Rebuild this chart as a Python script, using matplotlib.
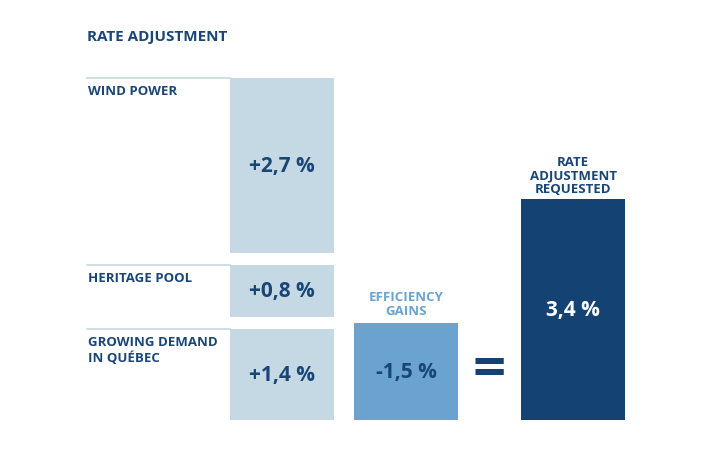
import numpy as np
import matplotlib.pyplot as plt

# data
stack_labels = ["GROWING DEMAND\nIN QUÉBEC", "HERITAGE POOL", "WIND POWER"]
stack_values = [1.4, 0.8, 2.7]
eff_label = "EFFICIENCY\nGAINS"
eff_value = -1.5
total_label = "RATE\nADJUSTMENT\nREQUESTED"
total_value = 3.4
title = "RATE ADJUSTMENT"

def fmt(v, sign=True):
    s = ("%+.1f" % v) if sign else ("%.1f" % v)
    return s.replace(".", ",") + " %"

light = "#c5d9e4"
mid = "#6aa3cf"
dark = "#144373"
txt = "#1a4677"

plt.rcParams['font.family'] = ['Open Sans', 'DejaVu Sans']

W, H = 727, 477
fig = plt.figure(figsize=(W / 100, H / 100), dpi=100)
ax = fig.add_axes([0, 0, 1, 1])
ppu = 65.0          # pixels per percent point
base_px = 56        # baseline distance from the bottom, pixels
ax.set_xlim(0, W)
ax.set_ylim(-base_px / ppu, (H - base_px) / ppu)
ax.axis("off")

gap = 12 / ppu
bw = 104
x_stack, x_eff, x_tot = 282, 406, 573

# stacked contributions with gaps
bottom = 0.0
for lab, v in zip(stack_labels, stack_values):
    ax.bar(x_stack, v, bw, bottom=bottom, color=light, linewidth=0)
    top = bottom + v
    ax.plot([87, x_stack - bw / 2], [top, top], color=light, lw=1.2)
    ax.annotate(lab, (88, top), xytext=(0, -4.5), textcoords="offset points",
                ha="left", va="top", fontsize=9.5, fontweight="bold", color=txt,
                linespacing=1.25)
    ax.text(x_stack, bottom + v / 2, fmt(v), ha="center", va="center",
            fontsize=15, fontweight="bold", color=txt)
    bottom = top + gap

# efficiency gains (negative, drawn upward from the baseline)
ax.bar(x_eff, abs(eff_value), bw, color=mid, linewidth=0)
ax.text(x_eff, abs(eff_value) / 2, fmt(eff_value), ha="center", va="center",
        fontsize=15, fontweight="bold", color=txt)
ax.annotate(eff_label, (x_eff, abs(eff_value)), xytext=(0, 4),
            textcoords="offset points", ha="center", va="bottom",
            fontsize=9.5, fontweight="bold", color=mid, linespacing=1.05)

# equals sign
ax.text((x_eff + x_tot) / 2, abs(eff_value) / 2, "=", ha="center",
        va="center", fontsize=42, fontweight="bold", color=dark)

# total
ax.bar(x_tot, total_value, bw, color=dark, linewidth=0)
ax.text(x_tot, total_value / 2, fmt(total_value, sign=False),
        ha="center", va="center", fontsize=15, fontweight="bold", color="white")
ax.annotate(total_label, (x_tot, total_value), xytext=(0, 3),
            textcoords="offset points", ha="center", va="bottom",
            fontsize=9.5, fontweight="bold", color=txt, linespacing=1.05)

fig.text(87 / W, 1 - 30 / H, title, ha="left", va="top", fontsize=11,
         fontweight="bold", color=txt)

fig.savefig("out.png", dpi=100, facecolor="white")
